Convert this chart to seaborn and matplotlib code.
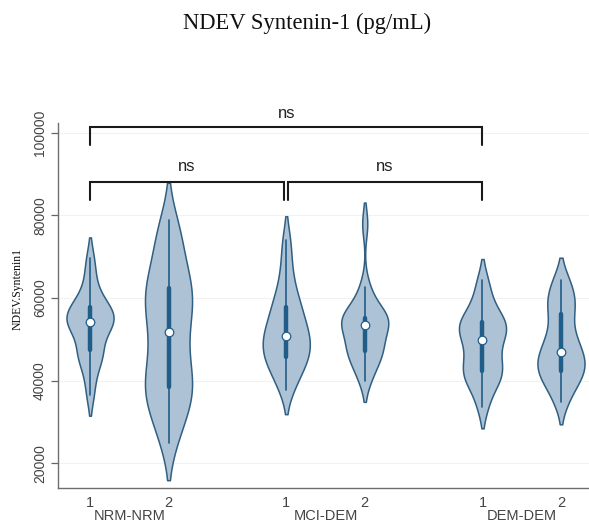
import numpy as np
import pandas as pd
import matplotlib
matplotlib.use("Agg")
import matplotlib.pyplot as plt
import matplotlib.transforms as mtransforms
import seaborn as sns

# ---- data (pg/mL) ----
groups = ["NRM-NRM", "MCI-DEM", "DEM-DEM"]
timepoints = ["1", "2"]
positions = [0, 1, 2.5, 3.5, 5, 6]

nrm_t1 = [36500, 41000, 44500, 46000, 46800, 47600, 51000, 52500, 53500, 54000,
          54400, 55000, 55800, 56500, 57700, 58000, 59500, 62000, 65500, 69700]
nrm_t2 = [24900, 28500, 31500, 34000, 35800, 37000, 38000, 39500, 41500, 43500,
          45500, 48000, 50500, 52900, 55000, 56800, 58500, 60300, 62000, 62500,
          64500, 67000, 70000, 73000, 76000, 78900]
mci_t1 = [37700, 40500, 42500, 44000, 45300, 46000, 47000, 48500, 49500, 50300,
          51300, 52500, 54000, 55500, 57500, 58500, 61000, 64000, 68500, 74000]
mci_t2 = [40000, 42500, 44500, 46000, 46700, 47500, 48500, 49500, 51000, 52500,
          54500, 54700, 54900, 55000, 55100, 55300, 57000, 60000, 62700, 78000]
dem_t1 = [33500, 37500, 39500, 41000, 41800, 42400, 44000, 45500, 47000, 49000,
          50600, 51600, 52400, 53200, 54000, 54600, 56000, 58000, 61000, 64400]
dem_t2 = [34800, 37500, 39500, 41000, 41800, 42500, 43500, 44500, 45500, 46500,
          47500, 49000, 51000, 52000, 55800, 57500, 59000, 60000, 63000, 64400]

series = [nrm_t1, nrm_t2, mci_t1, mci_t2, dem_t1, dem_t2]
yticks = [20000, 40000, 60000, 80000, 100000]

rows = []
for pos, vals in zip(positions, series):
    for v in vals:
        rows.append({"pos": pos, "value": v})
df = pd.DataFrame(rows)

# ---- styling ----
sns.set_theme(style="white")
fill_col = "#aec2d5"
edge_col = "#2f5f82"
box_col = "#215d89"
text_col = "#444444"

fig = plt.figure(figsize=(5.89, 5.27), dpi=100)
ax = fig.add_axes([58 / 589, 39 / 527, 531 / 589, 365 / 527])

sns.violinplot(data=df, x="pos", y="value", native_scale=True, width=0.6,
               density_norm="width", cut=1.5, bw_adjust=0.75, inner="box",
               inner_kws=dict(box_width=3.2, whis_width=1.2),
               color=fill_col, linecolor=box_col, linewidth=1.1,
               saturation=1, ax=ax)

# violin outlines in edge colour
for coll in ax.collections:
    coll.set_edgecolor(edge_col)

# median dots
meds = [np.median(s) for s in series]
ax.scatter(positions, meds, s=38, facecolor="white", edgecolor=box_col,
           linewidth=0.9, zorder=10)

ax.set_xlim(-0.408, 6.357)
ax.set_ylim(14000, 102400)

ax.set_yticks(yticks)
ax.set_yticklabels([str(t) for t in yticks])
ax.tick_params(axis="y", labelrotation=90, length=5, width=0.9, color="#666666",
               labelsize=10, labelcolor=text_col, pad=3, left=True)
for lab in ax.get_yticklabels():
    lab.set_va("center")
    lab.set_family("Liberation Sans")

ax.set_xticks(positions)
ax.set_xticklabels(timepoints * 3)
ax.tick_params(axis="x", length=0, labelsize=10.5, labelcolor=text_col, pad=6)
for lab in ax.get_xticklabels():
    lab.set_family("Liberation Sans")

ax.set_xlabel("")
ax.set_ylabel("")

ax.yaxis.grid(True, color="#f1f1f1", linewidth=0.8)
ax.set_axisbelow(True)
for side in ["top", "right"]:
    ax.spines[side].set_visible(False)
for side in ["left", "bottom"]:
    ax.spines[side].set_color("#6e6e6e")
    ax.spines[side].set_linewidth(1.0)

# group labels
trans = mtransforms.blended_transform_factory(ax.transData, ax.transAxes)
for i, g in enumerate(groups):
    mid = (positions[2 * i] + positions[2 * i + 1]) / 2
    ax.text(mid, -0.077, g, transform=trans, ha="center", va="center",
            fontsize=10.5, color=text_col, family="Liberation Sans")

# significance brackets
def bracket(x0, x1, y_top, y_low, label, y_text):
    ax.plot([x0, x0, x1, x1], [y_low, y_top, y_top, y_low], color="#1a1a1a",
            lw=1.5, clip_on=False, solid_joinstyle="miter", zorder=12)
    ax.text((x0 + x1) / 2, y_text, label, ha="center", va="center",
            fontsize=12, color="#222222", family="Liberation Sans", clip_on=False)

bracket(0.0, 5.0, 101450, 97100, "ns", 104800)
bracket(0.0, 2.47, 88200, 83850, "ns", 91800)
bracket(2.52, 5.0, 88200, 83850, "ns", 91800)

fig.text(18 / 589, 1 - 289 / 527, "NDEV.Syntenin1", rotation=90, ha="center",
         va="center", fontsize=8.5, family="Liberation Serif", color="#111111")
fig.text(307 / 589, 1 - 23 / 527, "NDEV Syntenin-1 (pg/mL)", ha="center",
         va="center", fontsize=16.3, family="Liberation Serif", color="#111111")

fig.savefig("out.png", dpi=100)
